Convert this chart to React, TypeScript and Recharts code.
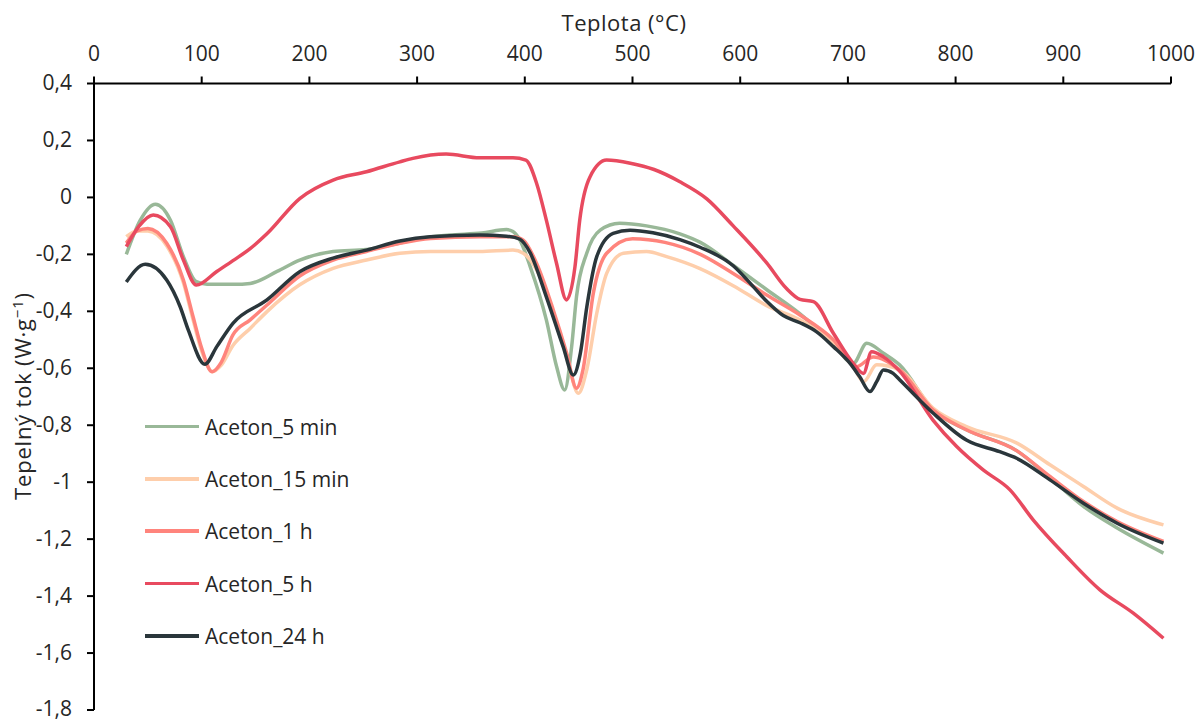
import React from "react";
import { LineChart, Line, XAxis, YAxis } from "recharts";

const FONT = "'Open Sans', Lato, sans-serif";
const TEXT = "#262626";

const tempTicks = [0, 100, 200, 300, 400, 500, 600, 700, 800, 900, 1000];
const fluxTicks = [0.4, 0.2, 0, -0.2, -0.4, -0.6, -0.8, -1, -1.2, -1.4, -1.6, -1.8];

// [teplota °C, tepelný tok W/g]
const aceton5min: [number, number][] = [
  [30, -0.2], [43, -0.08], [57, -0.024], [71, -0.08], [83, -0.208], [95, -0.296],
  [105, -0.305], [130, -0.305], [145, -0.302], [170, -0.26], [191, -0.22], [222, -0.19],
  [253, -0.183], [284, -0.16], [310, -0.14], [330, -0.132], [360, -0.125], [383, -0.113],
  [389, -0.12], [395.5, -0.15], [405, -0.243], [420, -0.43], [429.5, -0.594], [437, -0.676],
  [443.5, -0.524], [448, -0.349], [457.5, -0.196], [470, -0.115], [488, -0.091], [513, -0.1],
  [544, -0.128], [563, -0.158], [594, -0.24], [625, -0.325], [655, -0.407], [686, -0.512],
  [705, -0.583], [717.5, -0.512], [733, -0.547], [748, -0.588], [779, -0.746], [810, -0.816],
  [857, -0.89], [888, -0.986], [919, -1.086], [950, -1.161], [993, -1.249],
];

const aceton15min: [number, number][] = [
  [30, -0.138], [40, -0.118], [50, -0.118], [67.5, -0.17], [83, -0.3], [92, -0.43],
  [100, -0.54], [110, -0.612], [118, -0.59], [129, -0.52], [145, -0.46], [160.6, -0.401],
  [191, -0.307], [222, -0.249], [253, -0.22], [284, -0.196], [312.6, -0.19], [358, -0.19],
  [389, -0.185], [398.6, -0.196], [411, -0.255], [426.5, -0.407], [438.9, -0.56], [449.7, -0.688],
  [457.5, -0.606], [466.8, -0.407], [476, -0.267], [491.5, -0.196], [513, -0.19], [531.7, -0.208],
  [562.7, -0.25], [593.5, -0.31], [624.6, -0.38], [655.5, -0.43], [686.5, -0.512], [705, -0.594],
  [714.6, -0.647], [726.7, -0.588], [748, -0.606], [779, -0.74], [810, -0.805], [857, -0.863],
  [887.6, -0.939], [918.7, -1.015], [950, -1.091], [993, -1.15],
];

const aceton1h: [number, number][] = [
  [30, -0.16], [40, -0.118], [50, -0.109], [67.5, -0.161], [83, -0.29], [92, -0.419],
  [100, -0.53], [109.6, -0.612], [118, -0.58], [129, -0.483], [145, -0.43], [160.6, -0.378],
  [191, -0.276], [222, -0.22], [253, -0.19], [284, -0.161], [312.6, -0.144], [358, -0.138],
  [389, -0.138], [398.6, -0.15], [411, -0.232], [426.5, -0.396], [438.9, -0.547], [448, -0.67],
  [454, -0.606], [463.6, -0.337], [476, -0.196], [500, -0.145], [530, -0.158], [563, -0.2],
  [593.5, -0.267], [624.6, -0.343], [655.5, -0.413], [686.5, -0.5], [708, -0.594],
  [723.6, -0.56], [748, -0.606], [779, -0.746], [810, -0.816], [857, -0.89], [887.6, -0.98],
  [918.7, -1.068], [950, -1.138], [993, -1.208],
];

const aceton5h: [number, number][] = [
  [30, -0.173], [42, -0.1], [55, -0.062], [71, -0.103], [83, -0.22], [95, -0.308],
  [114, -0.26], [129, -0.222], [145, -0.18], [161, -0.126], [191, -0.004], [222, 0.061],
  [253, 0.09], [284, 0.125], [296, 0.137], [327, 0.152], [358, 0.139], [389, 0.139],
  [401, 0.131], [411, 0.049], [420, -0.08], [429.5, -0.232], [438.7, -0.36], [446.6, -0.243],
  [451, -0.08], [460.5, 0.072], [476, 0.131], [498, 0.12], [520, 0.098], [544, 0.055],
  [569, -0.005], [593.5, -0.1], [624.6, -0.23], [643, -0.32], [655.5, -0.358], [668, -0.366],
  [686.5, -0.477], [705, -0.583], [714.4, -0.618], [722, -0.542], [733, -0.56], [748, -0.61],
  [779, -0.782], [801, -0.875], [825.6, -0.957], [850.5, -1.027], [872, -1.132], [903, -1.261],
  [934, -1.378], [965, -1.46], [993, -1.548],
];

const aceton24h: [number, number][] = [
  [30, -0.297], [47.6, -0.235], [67.5, -0.29], [80, -0.384], [87.6, -0.466], [103, -0.586],
  [114, -0.524], [129, -0.442], [160.6, -0.36], [191, -0.261], [222, -0.213], [253, -0.185],
  [284, -0.153], [312, -0.138], [358, -0.132], [383, -0.136], [395.5, -0.147], [405, -0.195],
  [420, -0.349], [435.6, -0.524], [445, -0.624], [451.6, -0.547], [457.6, -0.384], [466.8, -0.208],
  [482, -0.126], [497.7, -0.115], [519, -0.124], [544, -0.148], [562.7, -0.175], [593.5, -0.24],
  [609, -0.3], [624.6, -0.365], [640, -0.415], [655.5, -0.44], [671, -0.472], [686.5, -0.524],
  [702, -0.583], [711, -0.63], [720.5, -0.682], [726.7, -0.647], [733, -0.606], [742, -0.618],
  [748, -0.64], [779, -0.757], [810, -0.852], [841, -0.893], [856.7, -0.916], [887.6, -0.992],
  [918.7, -1.074], [950, -1.144], [993, -1.214],
];

const series = [
  { name: "Aceton_5 min", color: "#99B898", points: aceton5min },
  { name: "Aceton_15 min", color: "#FECEAB", points: aceton15min },
  { name: "Aceton_1 h", color: "#FF847C", points: aceton1h },
  { name: "Aceton_5 h", color: "#E84A5F", points: aceton5h },
  { name: "Aceton_24 h", color: "#2A363B", points: aceton24h },
];

const formatFlux = (v: number) => String(Number(v.toFixed(1))).replace(".", ",");

const LegendBox = () => (
  <div
    style={{
      position: "absolute",
      left: 145,
      top: 400.5,
      fontFamily: FONT,
      fontSize: 21,
      color: TEXT,
    }}
  >
    {series.map((s) => (
      <div key={s.name} style={{ display: "flex", alignItems: "center", height: 52.3 }}>
        <div style={{ width: 54, height: 3.5, background: s.color, marginRight: 6 }} />
        <span style={{ whiteSpace: "nowrap" }}>{s.name}</span>
      </div>
    ))}
  </div>
);

export default function App() {
  return (
    <div style={{ position: "absolute", left: 0, top: 0, width: 1201, height: 722, background: "#fff" }}>
      <LineChart
        width={1201}
        height={722}
        margin={{ top: 0, right: 30, bottom: 12, left: 0 }}
        style={{ fontFamily: FONT }}
      >
        <XAxis
          type="number"
          dataKey="t"
          orientation="top"
          domain={[0, 1000]}
          ticks={tempTicks}
          height={83.5}
          allowDataOverflow
          axisLine={{ stroke: "#000", strokeWidth: 2 }}
          tickLine={{ stroke: "#000", strokeWidth: 2 }}
          tickSize={7}
          tickMargin={16}
          tick={{ fontFamily: FONT, fontSize: 21, fill: TEXT }}
          label={{
            content: () => (
              <text
                x={624}
                y={31}
                textAnchor="middle"
                fontFamily={FONT}
                fontSize={22}
                letterSpacing={0.5}
                fill={TEXT}
              >
                Teplota (°C)
              </text>
            ),
          }}
        />
        <YAxis
          type="number"
          dataKey="v"
          domain={[-1.8, 0.4]}
          ticks={fluxTicks}
          width={94}
          allowDataOverflow
          axisLine={{ stroke: "#000", strokeWidth: 2 }}
          tickLine={{ stroke: "#000", strokeWidth: 2 }}
          tickSize={7}
          tickMargin={15}
          tickFormatter={formatFlux}
          tick={{ fontFamily: FONT, fontSize: 21, fill: TEXT, dy: -1 }}
          label={{
            content: () => (
              <text
                transform="translate(31,396) rotate(-90)"
                textAnchor="middle"
                fontFamily={FONT}
                fontSize={22}
                letterSpacing={0.8}
                fill={TEXT}
              >
                Tepelný tok (W·g<tspan dy={-8} fontSize={15}>−1</tspan>
                <tspan dy={8}>)</tspan>
              </text>
            ),
          }}
        />
        {series.map((s) => (
          <Line
            key={s.name}
            name={s.name}
            data={s.points.map(([t, v]) => ({ t, v }))}
            dataKey="v"
            type="monotone"
            stroke={s.color}
            strokeWidth={3.5}
            dot={false}
            activeDot={false}
            isAnimationActive={false}
          />
        ))}
      </LineChart>
      <LegendBox />
    </div>
  );
}
